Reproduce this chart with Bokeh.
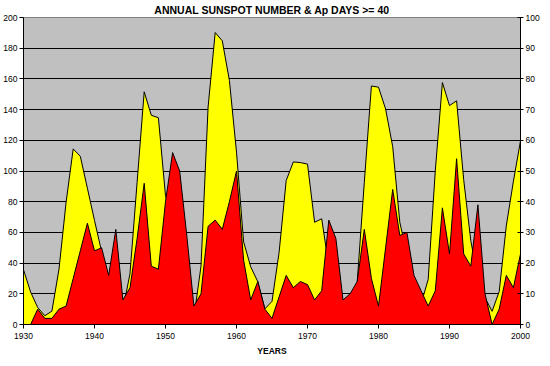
from bokeh.plotting import figure
from bokeh.models import Range1d, LinearAxis, FixedTicker
from bokeh.embed import file_html
from bokeh.resources import INLINE

# ---- data ----
years = list(range(1930, 2001))
sunspot_number = [35.7, 21.2, 11.1, 5.7, 8.7, 36.1, 79.7, 114.4, 109.6, 88.8,
                  67.8, 47.5, 30.6, 16.3, 9.6, 33.2, 92.6, 151.6, 136.3, 134.7,
                  83.9, 69.4, 31.5, 13.9, 4.4, 38.0, 141.7, 190.2, 184.8, 159.0,
                  112.3, 53.9, 37.6, 27.9, 10.2, 15.1, 47.0, 93.8, 105.9, 105.5,
                  104.5, 66.6, 68.9, 38.0, 34.5, 15.5, 12.6, 27.5, 92.5, 155.4,
                  154.6, 140.4, 115.9, 66.6, 45.9, 17.9, 13.4, 29.4, 100.2, 157.6,
                  142.6, 145.7, 94.3, 54.6, 29.9, 17.5, 8.6, 21.5, 64.3, 93.3,
                  119.6]
ap_days_ge_40 = [0, 0, 5, 2, 2, 5, 6, 15, 24, 33,
                 24, 25, 16, 31, 8, 12, 28, 46, 19, 18,
                 40, 56, 50, 29, 6, 10, 32, 34, 31, 40,
                 50, 21, 8, 14, 5, 2, 9, 16, 12, 14,
                 13, 8, 11, 34, 28, 8, 10, 14, 31, 15,
                 6, 25, 44, 29, 30, 16, 11, 6, 11, 38,
                 23, 54, 23, 19, 39, 10, 0, 5, 16, 12,
                 23]
x_ticks = [1930, 1940, 1950, 1960, 1970, 1980, 1990, 2000]
left_ticks = list(range(0, 201, 20))
right_ticks = list(range(0, 101, 10))

FONT = "Liberation Sans"

p = figure(width=542, height=358, output_backend="svg", toolbar_location=None,
           x_range=Range1d(1930, 2000), y_range=Range1d(0, 200),
           title="ANNUAL SUNSPOT NUMBER & Ap DAYS >= 40",
           min_border_left=0, min_border_right=0, min_border_top=0, min_border_bottom=0)
p.extra_y_ranges = {"ap": Range1d(0, 100)}

p.background_fill_color = "#C0C0C0"
p.border_fill_color = "white"
p.outline_line_color = "#808080"
p.outline_line_width = 1

p.title.align = "center"
p.title.text_font = FONT
p.title.text_font_size = "10.5px"
p.title.text_font_style = "bold"
p.title.text_color = "black"
p.title.standoff = 3
p.title.offset = 0

# left axis
la = p.left[0]
la.ticker = FixedTicker(ticks=left_ticks)
la.major_tick_out = 4
la.major_tick_in = 0
la.minor_tick_out = 0
la.minor_tick_in = 0
la.major_label_standoff = 2

# right axis
ra = LinearAxis(y_range_name="ap", ticker=FixedTicker(ticks=right_ticks))
ra.major_tick_out = 3
ra.major_tick_in = 3
ra.minor_tick_out = 0
ra.minor_tick_in = 0
ra.major_label_standoff = 2
p.add_layout(ra, "right")

# bottom axis
xa = p.below[0]
xa.ticker = FixedTicker(ticks=x_ticks)
xa.major_tick_out = 4
xa.major_tick_in = 0
xa.minor_tick_out = 0
xa.minor_tick_in = 0
xa.major_label_standoff = 4
xa.axis_label = "YEARS"
xa.axis_label_standoff = 4
xa.axis_label_text_font = FONT
xa.axis_label_text_font_size = "8.5px"
xa.axis_label_text_font_style = "bold"
xa.axis_label_text_color = "black"

for ax in (la, ra, xa):
    ax.axis_line_color = "black"
    ax.axis_line_width = 1
    ax.major_tick_line_color = "black"
    ax.major_label_text_font = FONT
    ax.major_label_text_font_size = "8.5px"
    ax.major_label_text_color = "black"

p.xgrid.visible = False
p.ygrid.ticker = FixedTicker(ticks=left_ticks[1:-1])
p.ygrid.grid_line_color = "black"
p.ygrid.grid_line_width = 1

# sunspot number (left axis)
p.varea(x=years, y1=0, y2=sunspot_number, fill_color="#FFFF00")
p.line(x=years, y=sunspot_number, line_color="black", line_width=1)

# Ap days >= 40 (right axis)
p.varea(x=years, y1=0, y2=ap_days_ge_40, fill_color="#FF0000", y_range_name="ap")
p.line(x=years, y=ap_days_ge_40, line_color="black", line_width=1, y_range_name="ap")

open("out.html", "w").write(file_html(p, INLINE))
